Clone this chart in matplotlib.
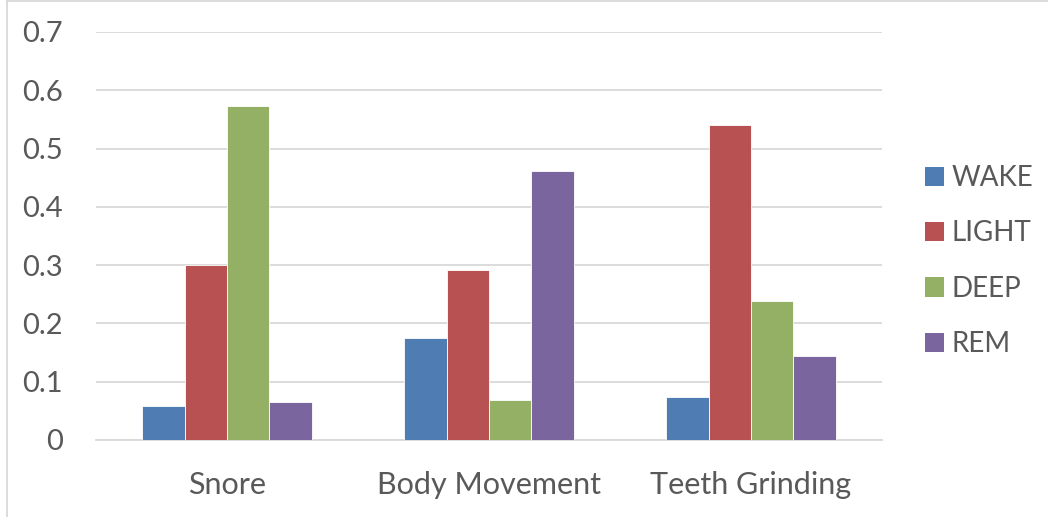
import matplotlib
matplotlib.use("Agg")
import matplotlib.pyplot as plt
import numpy as np
from matplotlib.lines import Line2D
from matplotlib.patches import Patch

categories = ["Snore", "Body Movement", "Teeth Grinding"]
series_names = ["WAKE", "LIGHT", "DEEP", "REM"]
wake = [0.058, 0.175, 0.073]
light = [0.301, 0.291, 0.541]
deep = [0.573, 0.069, 0.239]
rem = [0.066, 0.462, 0.144]
y_ticks = [0, 0.1, 0.2, 0.3, 0.4, 0.5, 0.6, 0.7]
y_tick_labels = ["0", "0.1", "0.2", "0.3", "0.4", "0.5", "0.6", "0.7"]

colors = ["#4E7CB3", "#B85252", "#93B065", "#7B659E"]
text_color = "#595959"
grid_color = "#D9D9D9"

plt.rcParams["font.family"] = ["Lato", "DejaVu Sans"]

W, H = 1048, 517
fig = plt.figure(figsize=(W / 100, H / 100), dpi=100)
ax = fig.add_axes([96 / W, 1 - 440 / H, (882 - 96) / W, (440 - 32) / H])

values = [wake, light, deep, rem]
n = len(series_names)
gap = 2.19
bw = 1.0 / (n + gap)
x = np.arange(len(categories))
for i, (name, vals) in enumerate(zip(series_names, values)):
    offs = (i - (n - 1) / 2) * bw
    ax.bar(x + offs, vals, width=bw, color=colors[i], edgecolor="white",
           linewidth=0.6, label=name, zorder=3)

ax.set_xlim(-0.5, len(categories) - 0.5)
ax.set_ylim(0, 0.7)
ax.set_yticks(y_ticks)
ax.set_yticklabels(y_tick_labels)
ax.set_xticks(x)
ax.set_xticklabels(categories)
ax.yaxis.grid(True, color=grid_color, linewidth=1.3, zorder=0)
ax.set_axisbelow(True)
for s in ["top", "right", "left"]:
    ax.spines[s].set_visible(False)
ax.spines["bottom"].set_color(grid_color)
ax.spines["bottom"].set_linewidth(1.3)
ax.tick_params(axis="both", length=0, colors=text_color)
ax.tick_params(axis="y", labelsize=21, pad=24)
ax.tick_params(axis="x", labelsize=22, pad=22)

handles = [Patch(facecolor=c, edgecolor="none") for c in colors]
leg = fig.legend(handles, series_names, loc="upper left",
                 bbox_to_anchor=(900 / W, 1 - 140 / H), frameon=False,
                 fontsize=20, labelcolor=text_color, handlelength=0.7,
                 handleheight=0.7, handletextpad=0.25, labelspacing=1.06)

# chart border
fig.add_artist(Line2D([7 / W, 7 / W], [0, 1], color="#D9D9D9", linewidth=1.3,
                      transform=fig.transFigure))
fig.add_artist(Line2D([7 / W, 1], [1 - 1 / H, 1 - 1 / H], color="#D9D9D9",
                      linewidth=1.3, transform=fig.transFigure))

fig.savefig("out.png", dpi=100, facecolor="white")
